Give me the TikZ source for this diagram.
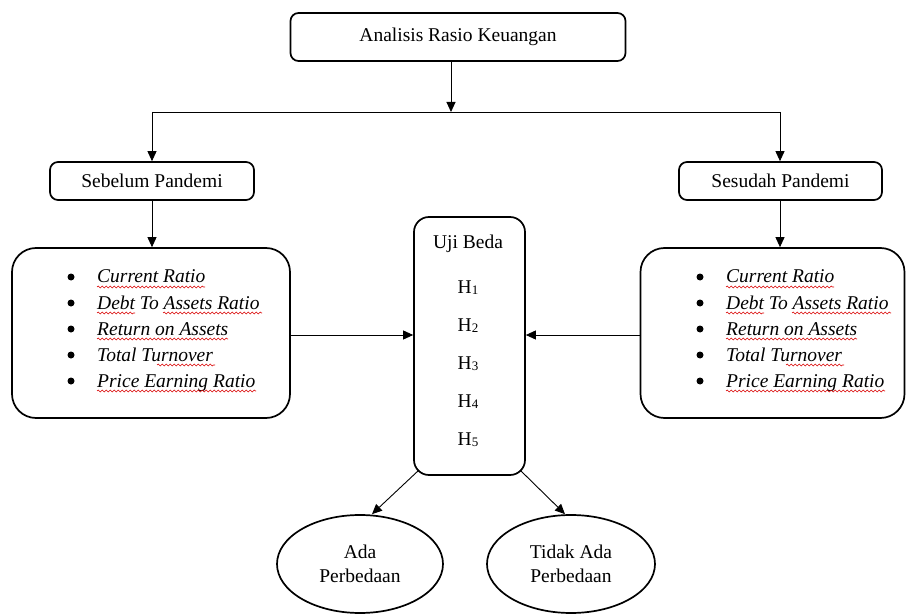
\documentclass[tikz,border=0pt]{standalone}
\usepackage{fontspec}
\setmainfont{Liberation Serif}
\usetikzlibrary{arrows.meta,shapes.geometric,decorations.pathmorphing}
\begin{document}
\begin{tikzpicture}[x=1pt,y=-1pt,
  box/.style={draw,line width=1.7pt,rounded corners=#1,inner sep=0pt},
  box/.default=8pt,
  oval/.style={draw,ellipse,line width=1.7pt,inner sep=0pt,align=center,
    font=\fontsize{19.5}{24}\selectfont},
  txt/.style={inner sep=0pt,font=\fontsize{19.5}{24}\selectfont},
  dot/.style={circle,fill,inner sep=0pt,minimum size=7pt},
  squig/.style={red!85!black,line width=0.6pt,decorate,
    decoration={snake,amplitude=0.9pt,segment length=4pt}},
  arr/.style={line width=0.9pt,-{Triangle[length=10pt,width=9pt]}},
  ln/.style={line width=0.9pt}]
\useasboundingbox (0,0) rectangle (906,615);
% boxes
\node[box,minimum width=335pt,minimum height=48pt,txt] (top) at (458,37) {Analisis Rasio Keuangan};
\node[box,minimum width=204pt,minimum height=38pt,txt] (seb) at (152,181) {Sebelum Pandemi};
\node[box,minimum width=203pt,minimum height=38pt,txt] (ses) at (780.5,181) {Sesudah Pandemi};
\node[box=24pt,minimum width=278pt,minimum height=170pt] (lbox) at (151,333) {};
\node[box=24pt,minimum width=264pt,minimum height=170pt] (rbox) at (772.5,333) {};
\node[box=15pt,minimum width=111pt,minimum height=258pt] (uji) at (469.5,346) {};
\node[oval,minimum width=166pt,minimum height=98pt] (ada) at (360,564) {Ada\\Perbedaan};
\node[oval,minimum width=168pt,minimum height=98pt] (tidak) at (571,564) {Tidak Ada\\Perbedaan};
% list items
\foreach \t [count=\i] in {Current Ratio,Debt To Assets Ratio,Return on Assets,Total Turnover,Price Earning Ratio}{
  \node[dot] (lb\i) at (71,{277+26*(\i-1)}) {};
  \node[txt,anchor=base west] (lt\i) at (97,{283+26*(\i-1)}) {\textit{\t}};
  \node[dot] (rb\i) at (700,{277+26*(\i-1)}) {};
  \node[txt,anchor=base west] (rt\i) at (726,{283+26*(\i-1)}) {\textit{\t}};
}
% spell-check underlines
\foreach \dx in {0,629}{
  \begin{scope}[xshift=\dx]
    \draw[squig] (97,287) -- (205,287);
    \draw[squig] (97,313) -- (135,313);
    \draw[squig] (163,313) -- (262,313);
    \draw[squig] (97,339) -- (228,339);
    \draw[squig] (157,365) -- (215,365);
    \draw[squig] (97,391) -- (256,391);
  \end{scope}
}
% uji beda text
\node[txt,anchor=base] (ujit) at (468,249) {Uji Beda};
\foreach \i in {1,...,5}{
  \node[txt,anchor=base] (h\i) at (468,{293+38*(\i-1)}) {H{\fontsize{13}{13}\selectfont\raisebox{-1.5pt}{\i}}};
}
% connectors
\coordinate (split) at (451,112);
\coordinate (L) at (152,112);
\coordinate (R) at (780,112);
\draw[arr] (top.south -| split) -- (split);
\draw[ln] (L) -- (R);
\draw[arr] (L) -- (seb.north -| L);
\draw[arr] (R) -- (ses.north -| R);
\draw[arr] (seb.south -| L) -- (lbox.north -| L);
\draw[arr] (ses.south -| R) -- (rbox.north -| R);
\draw[arr] (lbox.east |- 0,335) -- (uji.west |- 0,335);
\draw[arr] (rbox.west |- 0,335) -- (uji.east |- 0,335);
\coordinate (u1) at (419,470);
\coordinate (u2) at (520,470);
\draw[arr] (u1) -- ([xshift=12pt]ada.north);
\draw[arr] (u2) -- ([xshift=-6pt]tidak.north);
\end{tikzpicture}
\end{document}
